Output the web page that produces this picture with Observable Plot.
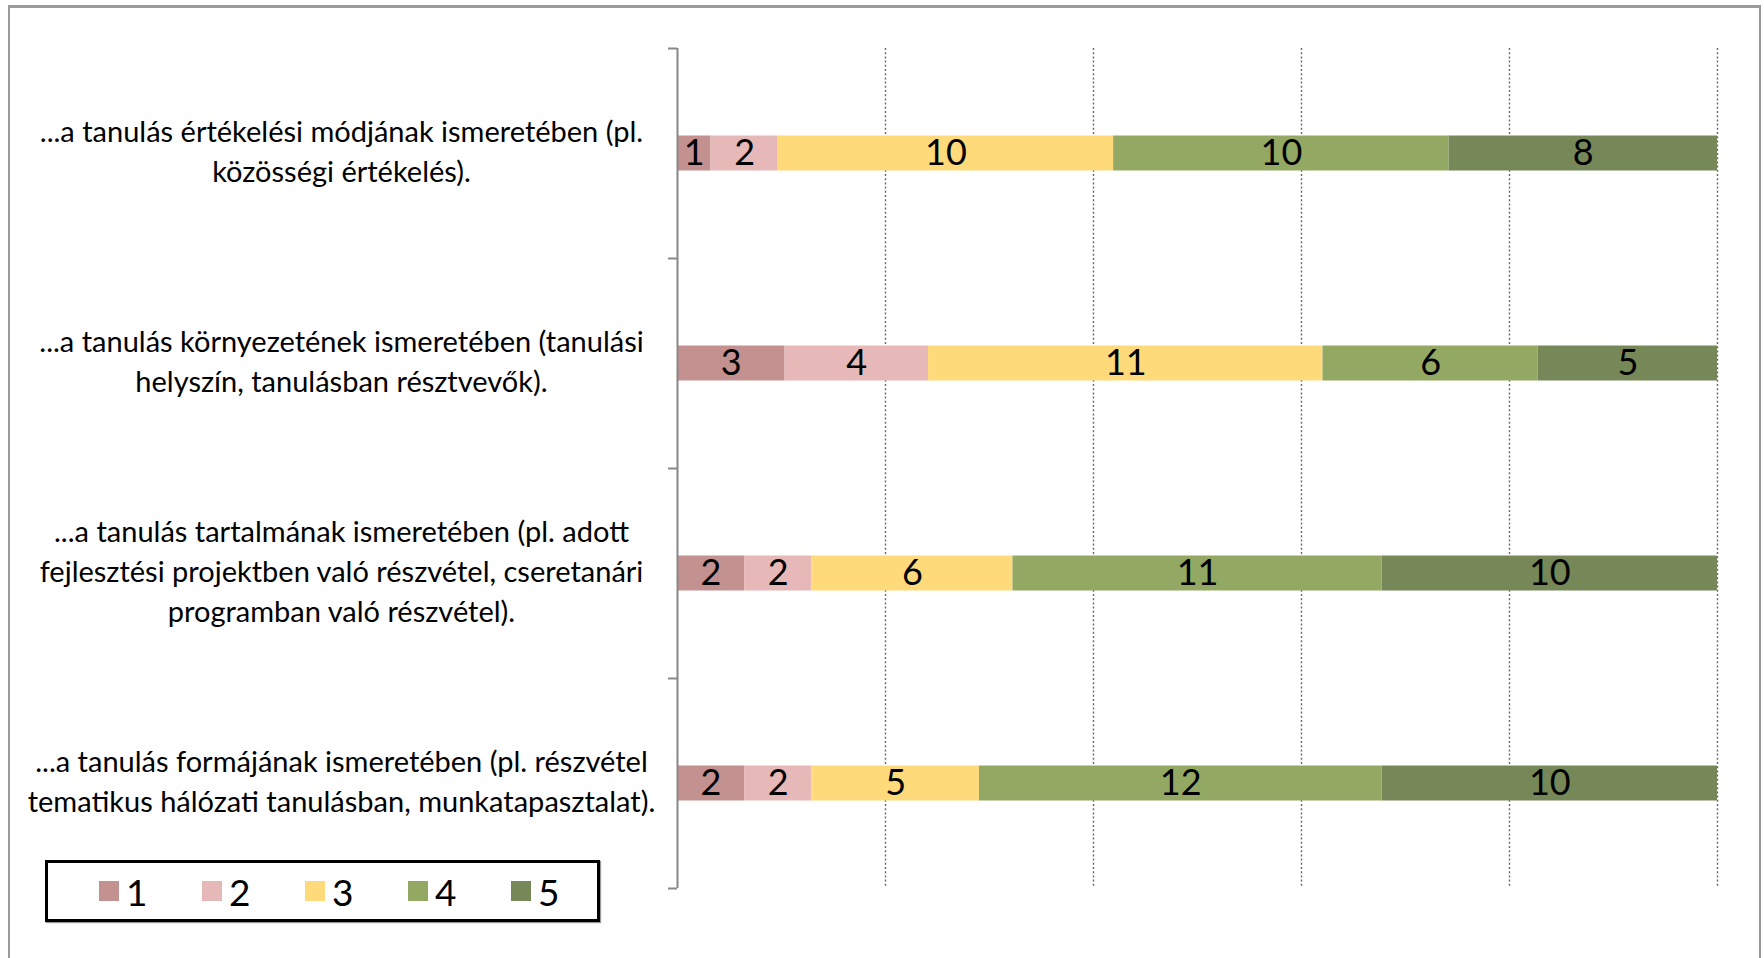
<!DOCTYPE html>
<html>
<head>
<meta charset="utf-8">
<script src="https://cdn.jsdelivr.net/npm/d3@7"></script>
<script src="https://cdn.jsdelivr.net/npm/@observablehq/plot@0.6"></script>
<style>
  body { margin: 0; background: #fff; }
  #wrap { position: relative; width: 1764px; height: 958px; overflow: hidden; font-family: Lato, "Open Sans", sans-serif; background: #fff; }
  #frame { position: absolute; left: 8px; top: 5px; width: 1753px; height: 1000px; box-sizing: border-box;
           border-top: 3px solid #9a9a9a; border-left: 2px solid #9a9a9a; border-right: 2px solid #9a9a9a; }
  #chart { position: absolute; left: 0; top: 0; }
  #legend { position: absolute; left: 45px; top: 860px; width: 555px; height: 62px; box-sizing: border-box;
            border: 3px solid #000; box-shadow: 1px 1px 1px #999; background: #fff;
            display: flex; align-items: center; padding-left: 51px; }
  .item { display: flex; align-items: center; width: 103px; flex: 0 0 103px; }
  .sw { width: 20px; height: 20px; margin-right: 7px; }
  .lb { font-size: 37px; line-height: 1; color: #000; }
</style>
</head>
<body>
<div id="wrap">
  <div id="frame"></div>
  <div id="chart"></div>
  <div id="legend"></div>
</div>
<script>
// ---- data ----
const categories = [
  "...a tanulás értékelési módjának ismeretében (pl.\nközösségi értékelés).",
  "...a tanulás környezetének ismeretében (tanulási\nhelyszín, tanulásban résztvevők).",
  "...a tanulás tartalmának ismeretében (pl. adott\nfejlesztési projektben való részvétel, cseretanári\nprogramban való részvétel).",
  "...a tanulás formájának ismeretében (pl. részvétel\ntematikus hálózati tanulásban, munkatapasztalat)."
];
const levels = ["1", "2", "3", "4", "5"];
const series1 = [1, 3, 2, 2];
const series2 = [2, 4, 2, 2];
const series3 = [10, 11, 6, 5];
const series4 = [10, 6, 11, 12];
const series5 = [8, 5, 10, 10];
const colors = ["#C49191", "#E6B9B8", "#FFDA7B", "#93A963", "#778858"];
const gridTicks = [0.2, 0.4, 0.6, 0.8, 1.0];
const boundaries = [-0.5, 0.5, 1.5, 2.5, 3.5];

// ---- build table ----
const seriesAll = [series1, series2, series3, series4, series5];
const rows = [];
categories.forEach((c, i) => {
  const vals = seriesAll.map(s => s[i]);
  const total = d3.sum(vals);
  let acc = 0;
  vals.forEach((v, k) => {
    rows.push({i, level: levels[k], value: v, x1: acc / total, x2: (acc + v) / total});
    acc += v;
  });
});
const barHalf = 35 / 210 / 2;

const chart = Plot.plot({
  width: 1764,
  height: 958,
  marginLeft: 677,
  marginRight: 47,
  marginTop: 48,
  marginBottom: 70,
  style: { fontFamily: "Lato, 'Open Sans', sans-serif", background: "transparent", color: "#000" },
  x: { domain: [0, 1], axis: null },
  y: { domain: [-0.5, 3.5], reverse: true, label: null },
  color: { domain: levels, range: colors },
  marks: [
    Plot.gridX(gridTicks, { stroke: "#666", strokeOpacity: 1, strokeWidth: 1.4, strokeDasharray: "2,2.2" }),
    Plot.rectX(rows, { x1: "x1", x2: "x2", y1: d => d.i - barHalf, y2: d => d.i + barHalf, fill: "level" }),
    Plot.text(rows, { x: d => (d.x1 + d.x2) / 2, y: "i", text: d => String(d.value), fontSize: 36, fill: "#000" }),
    Plot.ruleX([0], { stroke: "#888", strokeWidth: 2 }),
    Plot.axisY(boundaries, { tickSize: 9, tickFormat: () => "", label: null, stroke: "#888", strokeWidth: 2 }),
    Plot.text(categories, { x: () => 0, y: (d, i) => i, text: d => d, textAnchor: "middle", dx: -336, dy: -4,
                            fontSize: 29, lineHeight: 40 / 29, fill: "#000" })
  ]
});
document.getElementById("chart").appendChild(chart);

// ---- legend ----
const legend = document.getElementById("legend");
levels.forEach((l, k) => {
  const it = document.createElement("div");
  it.className = "item";
  it.innerHTML = `<div class="sw" style="background:${colors[k]}"></div><div class="lb">${l}</div>`;
  legend.appendChild(it);
});
</script>
</body>
</html>
